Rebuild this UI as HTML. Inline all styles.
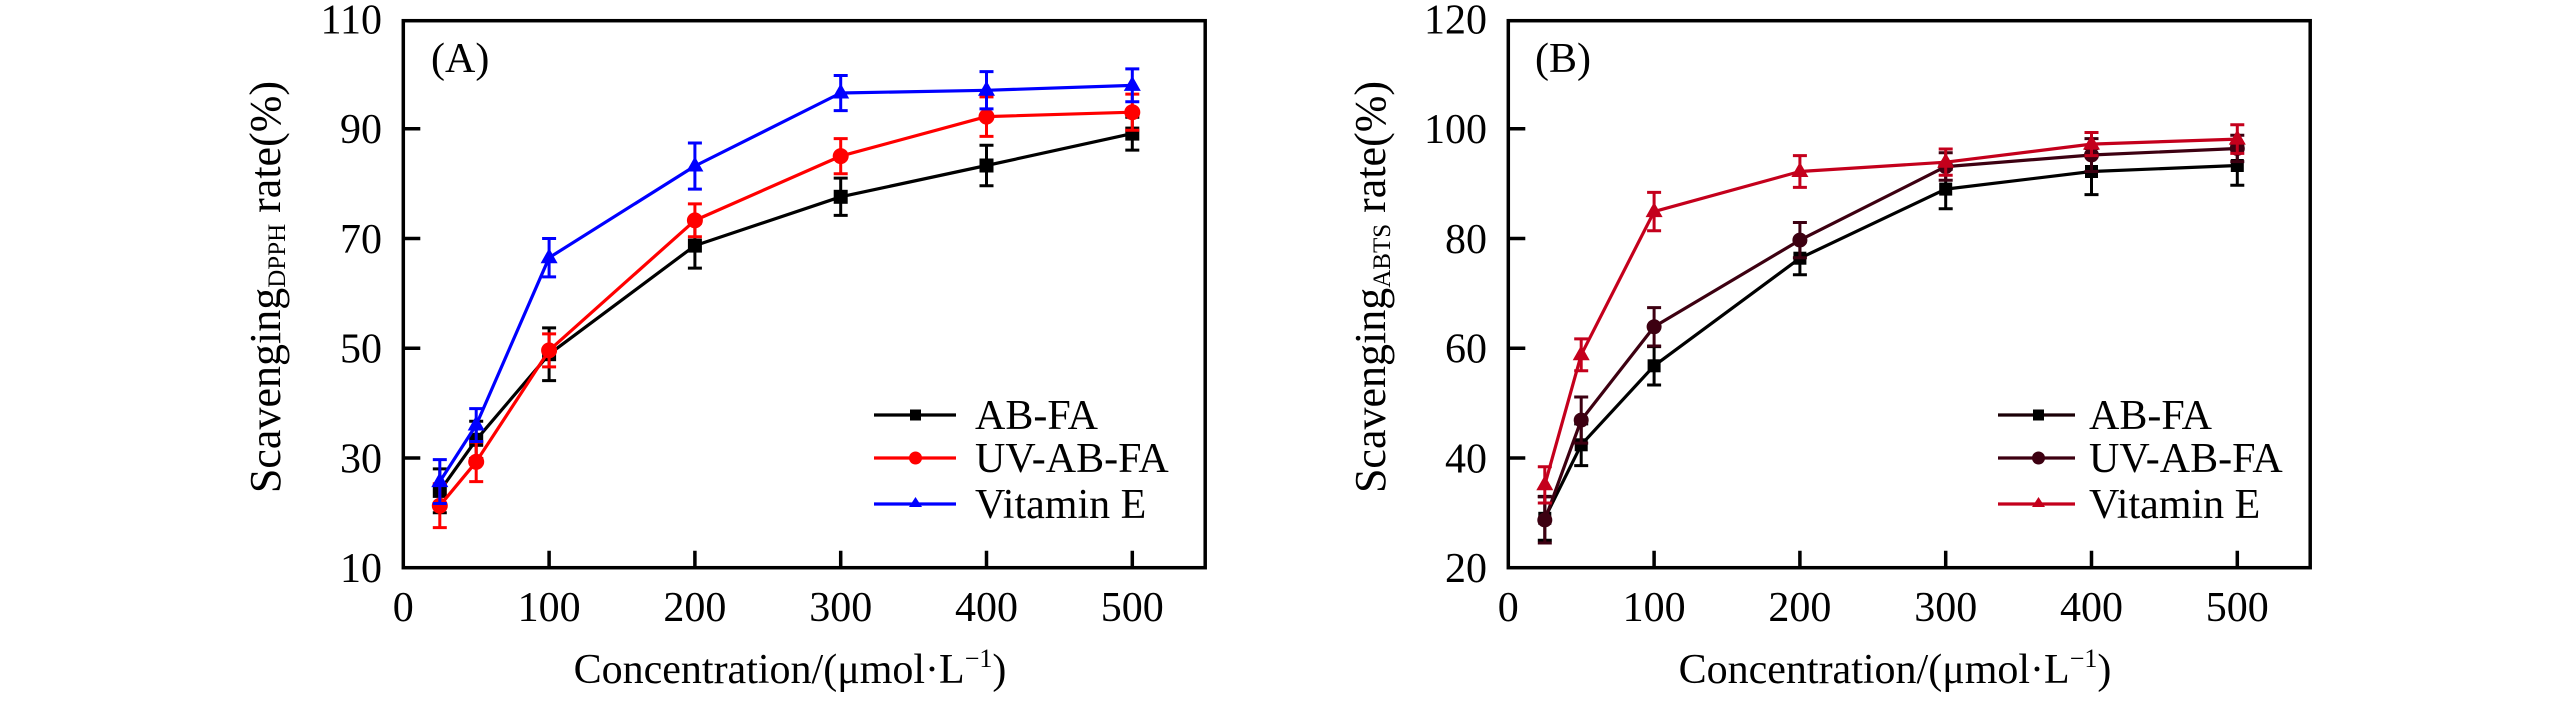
<!DOCTYPE html>
<html>
<head>
<meta charset="utf-8">
<style>
html,body{margin:0;padding:0;background:#fff;}
svg{display:block;}
text{font-family:"Liberation Serif","DejaVu Serif",serif;fill:#000;}
</style>
</head>
<body>
<svg width="2567" height="709" viewBox="0 0 2567 709" xmlns="http://www.w3.org/2000/svg">
<defs>
  <marker id="sqK" markerUnits="userSpaceOnUse" viewBox="-8 -8 16 16" markerWidth="16" markerHeight="16" refX="0" refY="0" overflow="visible"><rect x="-7" y="-7" width="14" height="14" fill="#000"/></marker>
  <marker id="ciR" markerUnits="userSpaceOnUse" viewBox="-9 -9 18 18" markerWidth="18" markerHeight="18" refX="0" refY="0" overflow="visible"><circle r="8" fill="#ff0000"/></marker>
  <marker id="trB" markerUnits="userSpaceOnUse" viewBox="-10 -10 20 20" markerWidth="20" markerHeight="20" refX="0" refY="0" overflow="visible"><polygon points="0,-9.5 8.5,5.5 -8.5,5.5" fill="#0000ff"/></marker>
  <marker id="sqK2" markerUnits="userSpaceOnUse" viewBox="-8 -8 16 16" markerWidth="16" markerHeight="16" refX="0" refY="0" overflow="visible"><rect x="-6.5" y="-6.5" width="13" height="13" fill="#000"/></marker>
  <marker id="ciM" markerUnits="userSpaceOnUse" viewBox="-9 -9 18 18" markerWidth="18" markerHeight="18" refX="0" refY="0" overflow="visible"><circle r="7.5" fill="#3d0011"/></marker>
  <marker id="trC" markerUnits="userSpaceOnUse" viewBox="-10 -10 20 20" markerWidth="20" markerHeight="20" refX="0" refY="0" overflow="visible"><polygon points="0,-9.5 8.5,5.5 -8.5,5.5" fill="#c4001c"/></marker>
</defs>

<!-- ================= PANEL A ================= -->
<g fill="none" stroke-width="3">
  <!-- black error bars -->
  <path stroke="#000" d="M439.8 468.9V512.8M432.8 468.9H446.8M432.8 512.8H446.8
  M476.2 421.2V458.5M469.2 421.2H483.2M469.2 458.5H483.2
  M549.1 327.9V380.6M542.1 327.9H556.1M542.1 380.6H556.1
  M694.9 223.1V268.1M687.9 223.1H701.9M687.9 268.1H701.9
  M840.7 178.1V215.4M833.7 178.1H847.7M833.7 215.4H847.7
  M986.5 145.2V185.8M979.5 145.2H993.5M979.5 185.8H993.5
  M1132.3 117.2V150.1M1125.3 117.2H1139.3M1125.3 150.1H1139.3"/>
  <polyline stroke="#000" stroke-width="3.2" stroke-linejoin="round" points="439.8,490.9 476.2,439.8 549.1,354.2 694.9,245.6 840.7,196.8 986.5,165.5 1132.3,133.6" marker-start="url(#sqK)" marker-mid="url(#sqK)" marker-end="url(#sqK)"/>
  <!-- red -->
  <path stroke="#ff0000" d="M439.8 483.7V527.6M432.8 483.7H446.8M432.8 527.6H446.8
  M476.2 442.0V481.6M469.2 442.0H483.2M469.2 481.6H483.2
  M549.1 333.9V366.9M542.1 333.9H556.1M542.1 366.9H556.1
  M694.9 203.9V236.8M687.9 203.9H701.9M687.9 236.8H701.9
  M840.7 138.6V173.7M833.7 138.6H847.7M833.7 173.7H847.7
  M986.5 96.9V136.4M979.5 96.9H993.5M979.5 136.4H993.5
  M1132.3 94.1V130.3M1125.3 94.1H1139.3M1125.3 130.3H1139.3"/>
  <polyline stroke="#ff0000" stroke-width="3.2" stroke-linejoin="round" points="439.8,505.7 476.2,461.8 549.1,350.4 694.9,220.4 840.7,156.1 986.5,116.6 1132.3,112.2" marker-start="url(#ciR)" marker-mid="url(#ciR)" marker-end="url(#ciR)"/>
  <!-- blue -->
  <path stroke="#0000ff" d="M439.8 459.6V503.5M432.8 459.6H446.8M432.8 503.5H446.8
  M476.2 408.6V441.5M469.2 408.6H483.2M469.2 441.5H483.2
  M549.1 238.5V276.9M542.1 238.5H556.1M542.1 276.9H556.1
  M694.9 143.0V189.1M687.9 143.0H701.9M687.9 189.1H701.9
  M840.7 75.5V110.6M833.7 75.5H847.7M833.7 110.6H847.7
  M986.5 71.6V108.9M979.5 71.6H993.5M979.5 108.9H993.5
  M1132.3 68.9V101.8M1125.3 68.9H1139.3M1125.3 101.8H1139.3"/>
  <polyline stroke="#0000ff" stroke-width="3.2" stroke-linejoin="round" points="439.8,481.6 476.2,425.0 549.1,257.7 694.9,166.0 840.7,93.0 986.5,90.3 1132.3,85.4" marker-start="url(#trB)" marker-mid="url(#trB)" marker-end="url(#trB)"/>
</g>

<!-- axes A -->
<rect x="403.3" y="20.7" width="801.9" height="547" fill="none" stroke="#000" stroke-width="3.5"/>
<path stroke="#000" stroke-width="3.5" fill="none" d="M403.3 128.7H420.3M403.3 238.45H420.3M403.3 348.2H420.3M403.3 457.95H420.3
M549.1 567.7V550.7M694.9 567.7V550.7M840.7 567.7V550.7M986.5 567.7V550.7M1132.3 567.7V550.7"/>

<g font-size="42" text-anchor="end">
  <text x="382" y="33.5">110</text>
  <text x="382" y="143.2">90</text>
  <text x="382" y="253">70</text>
  <text x="382" y="362.7">50</text>
  <text x="382" y="472.5">30</text>
  <text x="382" y="582.2">10</text>
</g>
<g font-size="42" text-anchor="middle">
  <text x="403.3" y="621">0</text>
  <text x="549.1" y="621">100</text>
  <text x="694.9" y="621">200</text>
  <text x="840.7" y="621">300</text>
  <text x="986.5" y="621">400</text>
  <text x="1132.3" y="621">500</text>
</g>
<text x="790" y="683" font-size="42" text-anchor="middle">Concentration/(μmol·L<tspan dy="-16" font-size="26">−1</tspan><tspan dy="16">)</tspan></text>
<text transform="translate(280,287) rotate(-90)" font-size="44" text-anchor="middle">Scavenging<tspan font-size="25" dy="5">DPPH</tspan><tspan dy="-5"> rate(%)</tspan></text>
<text x="431" y="72" font-size="42">(A)</text>

<!-- legend A -->
<g stroke-width="3.2">
  <line x1="874" y1="415" x2="956" y2="415" stroke="#000"/>
  <line x1="874" y1="458" x2="956" y2="458" stroke="#ff0000"/>
  <line x1="874" y1="504" x2="956" y2="504" stroke="#0000ff"/>
</g>
<rect x="910" y="409.5" width="11" height="11" fill="#000"/>
<circle cx="915.5" cy="458" r="6.5" fill="#ff0000"/>
<polygon points="915.5,497 922,507 909,507" fill="#0000ff"/>
<g font-size="42">
  <text x="975" y="429">AB-FA</text>
  <text x="975" y="472">UV-AB-FA</text>
  <text x="975" y="518">Vitamin E</text>
</g>

<!-- ================= PANEL B ================= -->
<g fill="none" stroke-width="3">
  <path stroke="#000" d="M1544.8 496.4V540.3M1537.8 496.4H1551.8M1537.8 540.3H1551.8
  M1581.2 423.9V465.6M1574.2 423.9H1588.2M1574.2 465.6H1588.2
  M1654.1 346.6V385.0M1647.1 346.6H1661.1M1647.1 385.0H1661.1
  M1799.9 241.7V274.7M1792.9 241.7H1806.9M1792.9 274.7H1806.9
  M1945.7 169.3V208.8M1938.7 169.3H1952.7M1938.7 208.8H1952.7
  M2091.5 148.5V194.6M2084.5 148.5H2098.5M2084.5 194.6H2098.5
  M2237.3 145.7V185.2M2230.3 145.7H2244.3M2230.3 185.2H2244.3"/>
  <polyline stroke="#000" stroke-width="3.2" stroke-linejoin="round" points="1544.8,518.3 1581.2,444.8 1654.1,365.8 1799.9,258.2 1945.7,189.1 2091.5,171.5 2237.3,165.5" marker-start="url(#sqK2)" marker-mid="url(#sqK2)" marker-end="url(#sqK2)"/>
  <path stroke="#3d0011" d="M1544.8 496.9V543.0M1537.8 496.9H1551.8M1537.8 543.0H1551.8
  M1581.2 397.0V443.1M1574.2 397.0H1588.2M1574.2 443.1H1588.2
  M1654.1 307.6V346.0M1647.1 307.6H1661.1M1647.1 346.0H1661.1
  M1799.9 222.5V257.7M1792.9 222.5H1806.9M1792.9 257.7H1806.9
  M1945.7 152.8V180.3M1938.7 152.8H1952.7M1938.7 180.3H1952.7
  M2091.5 138.6V171.5M2084.5 138.6H2098.5M2084.5 171.5H2098.5
  M2237.3 135.3V161.6M2230.3 135.3H2244.3M2230.3 161.6H2244.3"/>
  <polyline stroke="#3d0011" stroke-width="3.2" stroke-linejoin="round" points="1544.8,520.0 1581.2,420.1 1654.1,326.8 1799.9,240.1 1945.7,166.6 2091.5,155.0 2237.3,148.5" marker-start="url(#ciM)" marker-mid="url(#ciM)" marker-end="url(#ciM)"/>
  <path stroke="#c4001c" d="M1544.8 466.7V503.0M1537.8 466.7H1551.8M1537.8 503.0H1551.8
  M1581.2 338.9V370.7M1574.2 338.9H1588.2M1574.2 370.7H1588.2
  M1654.1 192.4V230.8M1647.1 192.4H1661.1M1647.1 230.8H1661.1
  M1799.9 155.6V187.4M1792.9 155.6H1806.9M1792.9 187.4H1806.9
  M1945.7 149.0V175.3M1938.7 149.0H1952.7M1938.7 175.3H1952.7
  M2091.5 132.5V155.6M2084.5 132.5H2098.5M2084.5 155.6H2098.5
  M2237.3 124.8V153.4M2230.3 124.8H2244.3M2230.3 153.4H2244.3"/>
  <polyline stroke="#c4001c" stroke-width="3.2" stroke-linejoin="round" points="1544.8,484.8 1581.2,354.8 1654.1,211.6 1799.9,171.5 1945.7,162.2 2091.5,144.1 2237.3,139.1" marker-start="url(#trC)" marker-mid="url(#trC)" marker-end="url(#trC)"/>
</g>

<!-- axes B -->
<rect x="1508.3" y="20.7" width="801.9" height="547" fill="none" stroke="#000" stroke-width="3.5"/>
<path stroke="#000" stroke-width="3.5" fill="none" d="M1508.3 128.7H1525.3M1508.3 238.45H1525.3M1508.3 348.2H1525.3M1508.3 457.95H1525.3
M1654.1 567.7V550.7M1799.9 567.7V550.7M1945.7 567.7V550.7M2091.5 567.7V550.7M2237.3 567.7V550.7"/>

<g font-size="42" text-anchor="end">
  <text x="1487" y="33.5">120</text>
  <text x="1487" y="143.2">100</text>
  <text x="1487" y="253">80</text>
  <text x="1487" y="362.7">60</text>
  <text x="1487" y="472.5">40</text>
  <text x="1487" y="582.2">20</text>
</g>
<g font-size="42" text-anchor="middle">
  <text x="1508.3" y="621">0</text>
  <text x="1654.1" y="621">100</text>
  <text x="1799.9" y="621">200</text>
  <text x="1945.7" y="621">300</text>
  <text x="2091.5" y="621">400</text>
  <text x="2237.3" y="621">500</text>
</g>
<text x="1895" y="683" font-size="42" text-anchor="middle">Concentration/(μmol·L<tspan dy="-16" font-size="26">−1</tspan><tspan dy="16">)</tspan></text>
<text transform="translate(1385,287) rotate(-90)" font-size="44" text-anchor="middle">Scavenging<tspan font-size="25" dy="5">ABTS</tspan><tspan dy="-5"> rate(%)</tspan></text>
<text x="1535" y="72" font-size="42">(B)</text>

<!-- legend B -->
<g stroke-width="3.2">
  <line x1="1998" y1="415" x2="2075" y2="415" stroke="#1a0006"/>
  <line x1="1998" y1="458" x2="2075" y2="458" stroke="#3d0011"/>
  <line x1="1998" y1="504" x2="2075" y2="504" stroke="#c4001c"/>
</g>
<rect x="2033" y="409.5" width="11" height="11" fill="#000"/>
<circle cx="2038.5" cy="458" r="6.5" fill="#3d0011"/>
<polygon points="2038.5,497 2045,507 2032,507" fill="#c4001c"/>
<g font-size="42">
  <text x="2089" y="429">AB-FA</text>
  <text x="2089" y="472">UV-AB-FA</text>
  <text x="2089" y="518">Vitamin E</text>
</g>
</svg>
</body>
</html>
